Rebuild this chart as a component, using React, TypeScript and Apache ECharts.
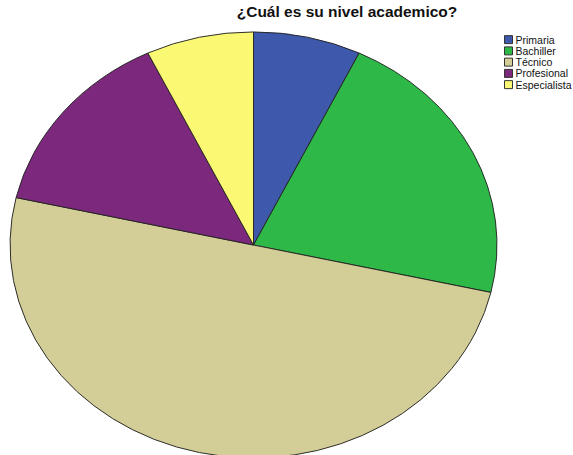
import React, { useEffect, useRef } from "react";
import * as echarts from "echarts";

const categories = ["Primaria", "Bachiller", "Técnico", "Profesional", "Especialista"];
const counts = [1, 3, 7, 2, 1];
const colors = ["#3E58AC", "#2EB848", "#D3CE97", "#7C287D", "#FBF873"];
const titleText = "¿Cuál es su nivel academico?";

const CX = 253.5;
const CY = 245;
const RX = 243.5;
const RY = 213;

export default function App() {
  const ref = useRef<HTMLDivElement>(null);
  useEffect(() => {
    if (!ref.current) return;
    const chart = echarts.init(ref.current, null, { renderer: "svg" });
    const total = counts.reduce((a, b) => a + b, 0);
    const series = categories.map((name, i) => ({
      type: "custom",
      name,
      coordinateSystem: "none",
      itemStyle: { color: colors[i] },
      data: [[counts[i]]],
      renderItem: (params: any, api: any) => {
        const before = counts.slice(0, params.seriesIndex).reduce((a, b) => a + b, 0);
        const v = api.value(0);
        const start = -Math.PI / 2 + (2 * Math.PI * before) / total;
        const end = -Math.PI / 2 + (2 * Math.PI * (before + v)) / total;
        return {
          type: "sector",
          x: CX,
          y: CY,
          scaleY: RY / RX,
          shape: { cx: 0, cy: 0, r: RX, r0: 0, startAngle: start, endAngle: end, clockwise: true },
          style: { fill: colors[params.seriesIndex], stroke: "#222222", lineWidth: 1, strokeNoScale: true },
        };
      },
    }));
    chart.setOption({
      animation: false,
      backgroundColor: "#ffffff",
      title: {
        text: titleText,
        left: 342,
        top: 0,
        padding: [3, 5, 5, 5],
        textAlign: "center",
        textStyle: { fontFamily: "Liberation Sans", fontSize: 15.5, fontWeight: "bold", color: "#111111" },
      },
      legend: {
        orient: "vertical",
        left: 499,
        top: 29,
        itemWidth: 8,
        itemHeight: 8,
        itemGap: 0,
        icon: "rect",
        data: categories,
        itemStyle: { borderColor: "#333333", borderWidth: 1 },
        textStyle: { fontFamily: "Liberation Sans", fontSize: 10.5, lineHeight: 11.25, color: "#111111", padding: [0, 0, 0, -2] },
      },
      series,
    });
    return () => chart.dispose();
  }, []);
  return <div ref={ref} style={{ width: 573, height: 455, position: "absolute", left: 0, top: 0 }} />;
}
